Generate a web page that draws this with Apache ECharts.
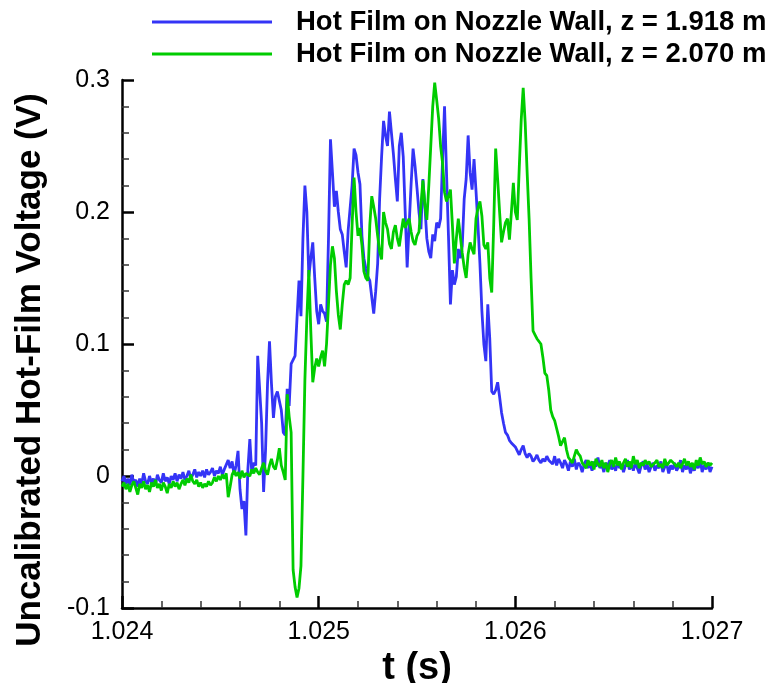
<!DOCTYPE html>
<html>
<head>
<meta charset="utf-8">
<script src="https://cdn.jsdelivr.net/npm/echarts@6/dist/echarts.min.js"></script>
<style>
html,body{margin:0;padding:0;background:#fff;}
#chart{width:770px;height:683px;}
</style>
</head>
<body>
<div id="chart"></div>
<script>
// Sampling: t = T0 + i*DT (s)
const T0 = 1.024;
const DT = 0.00001;
const seriesNames = ['Hot Film on Nozzle Wall, z = 1.918 m', 'Hot Film on Nozzle Wall, z = 2.070 m'];
const xTicks = [1.024, 1.025, 1.026, 1.027];
const yTicks = [-0.1, 0, 0.1, 0.2, 0.3];
// Voltage in mV, z = 1.918 m
const voltBlue = [
  -4, 0, -6, -2, -7, 1, -5, -3, -8, -2,
  -6, 2, -4, -6, 0, -5, -2, -7, 1, -3,
  -5, 2, -4, -1, -6, 0, -3, 2, -4, 1,
  -2, 3, -3, 0, 4, -2, 1, 5, -1, 3,
  0, 4, -1, 5, 1, 3, 6, 0, 4, 2,
  7, 1, 5, 4, 12, 6, 11, 1, 8, 19,
  -10, -25, -19, -45, 5, 28, 2, 10, 8, 91,
  91, 40, -12, 20, 70, 102, 70, 44, 60, 64,
  63, 50, 33, 31, 66, 53, 85, 88, 91, 120,
  148, 121, 180, 220, 200, 151, 165, 177, 150, 125,
  115, 130, 125, 123, 117, 180, 255, 230, 204, 216,
  200, 187, 183, 170, 158, 186, 185, 220, 248, 243,
  230, 221, 182, 165, 157, 151, 148, 147, 123, 140,
  161, 210, 242, 269, 258, 250, 276, 260, 244, 225,
  208, 250, 260, 242, 200, 158, 190, 221, 248, 235,
  218, 200, 187, 225, 205, 180, 170, 165, 183, 178,
  192, 188, 195, 240, 280, 230, 182, 130, 156, 145,
  151, 172, 165, 174, 210, 225, 258, 230, 217, 240,
  216, 190, 161, 125, 100, 87, 130, 104, 64, 62,
  65, 71, 60, 48, 40, 33, 31, 27, 25, 26,
  22, 23, 16, 20, 23, 17, 14, 17, 15, 11,
  13, 16, 12, 10, 13, 11, 15, 12, 11, 9,
  15, 8, 13, 10, 6, 12, 9, 4, 11, 7,
  13, 5, 10, 8, 3, 9, 12, 6, 10, 4,
  11, 7, 14, 6, 9, 3, 10, 7, 12, 5,
  8, 4, 11, 6, 9, 3, 8, 12, 5, 9,
  4, 10, 6, 2, 8, 11, 5, 9, 3, 7,
  10, 4, 8, 6, 11, 3, 7, 9, 2, 8,
  5, 10, 4, 7, 12, 3, 8, 5, 10, 2,
  7, 4, 9, 6, 12, 3, 8, 5, 10, 3,
  7
];
// Voltage in mV, z = 2.070 m
const voltGreen = [
  -8, -5, -10, -6, -12, -7, -4, -9, -14, -6,
  -9, -4, -10, -7, -12, -5, -8, -3, -9, -6,
  -11, -5, -8, -13, -6, -9, -4, -8, -5, -10,
  -6, -3, -7, -2, -5, 1, -4, -6, -3, -8,
  -5, -9, -6, -8, -4, -7, -5, -1, -4, 0,
  -3, 1, -2, 2, -16, -8, 1, 4, 0, 3,
  -2, 4, -1, 2, 3, 0, 5, 2, 6, 3,
  1, 6, 10, 4, 1, 8, 13, 7, 5, 12,
  21, 8, 3, -3, 62, 45, 33, -71, -84, -92,
  -85, -68, 0, 73, 120, 156, 110, 71, 82, 89,
  83, 90, 95, 83, 100, 130, 160, 174, 165, 140,
  122, 111, 130, 145, 148, 145, 150, 190, 226, 200,
  182, 188, 175, 155, 150, 148, 190, 212, 204, 195,
  182, 170, 164, 200, 192, 187, 176, 172, 185, 190,
  180, 174, 185, 195, 188, 192, 195, 185, 178, 175,
  182, 185, 205, 224, 205, 194, 220, 250, 280, 298,
  285, 271, 250, 237, 215, 208, 212, 217, 190, 161,
  180, 195, 182, 169, 158, 150, 168, 177, 172, 168,
  195, 203, 208, 197, 175, 172, 177, 150, 139, 190,
  248, 225, 200, 177, 185, 192, 195, 179, 200, 222,
  200, 194, 234, 270, 294, 268, 230, 195, 150, 110,
  107, 104, 103, 100, 90, 78, 76, 65, 50, 45,
  42, 36, 30, 23, 26, 29, 20, 14, 12, 10,
  15, 20, 17, 15, 10, 8, 6, 12, 8, 11,
  5, 13, 9, 7, 12, 6, 10, 3, 9, 12,
  7, 14, 8, 11, 5, 10, 13, 7, 11, 6,
  15, 9, 12, 6, 10, 8, 12, 9, 11, 7,
  8, 10, 12, 7, 9, 6, 13, 8, 10, 12,
  11, 9, 7, 10, 6, 9, 13, 8, 11, 7,
  10, 5, 12, 8, 14, 9, 11, 7, 10, 8,
  10
];

function toPairs(arr){ return arr.map((v,i)=>[T0 + i*DT, v/1000]); }

const chart = echarts.init(document.getElementById('chart'), null, {renderer:'canvas'});
const FONT = '"Liberation Sans", Arial, Helvetica, sans-serif';
const BLUE = '#3434f6';
const GREEN = '#00cc00';
chart.setOption({
  animation:false,
  backgroundColor:'#fff',
  grid:{left:122, right:58, top:80, bottom:75, containLabel:false, outerBoundsMode:'none'},
  legend:{
    orient:'vertical', left:152, top:8, padding:0,
    icon:'rect', itemWidth:120, itemHeight:3, itemGap:4,
    data: seriesNames,
    textStyle:{fontFamily:FONT, fontWeight:'bold', fontSize:27.5, color:'#000', padding:[0,0,0,19], lineHeight:24},
    selectedMode:false
  },
  xAxis:{
    type:'value', min:xTicks[0], max:xTicks[xTicks.length-1], interval:0.001,
    name:'t (s)', nameLocation:'middle', nameGap:18,
    nameTextStyle:{fontFamily:FONT, fontWeight:'bold', fontSize:38, color:'#000'},
    axisLine:{show:true, onZero:false, lineStyle:{color:'#000', width:2.5}},
    axisTick:{show:true, inside:true, length:12, lineStyle:{color:'#000', width:2.5}},
    minorTick:{show:true, splitNumber:5, length:7, lineStyle:{color:'#333', width:1.5}},
    axisLabel:{fontFamily:FONT, fontSize:25, color:'#000', margin:12, formatter:v=>v.toFixed(3)},
    splitLine:{show:false}
  },
  yAxis:{
    type:'value', min:yTicks[0], max:yTicks[yTicks.length-1], interval:0.1,
    name:'Uncalibrated Hot-Film Voltage (V)', nameLocation:'middle', nameGap:74, nameRotate:90,
    nameTextStyle:{fontFamily:FONT, fontWeight:'bold', fontSize:35, color:'#000', padding:[0,52,0,0]},
    axisLine:{show:true, onZero:false, lineStyle:{color:'#000', width:2.5}},
    axisTick:{show:true, inside:true, length:12, lineStyle:{color:'#000', width:2.5}},
    minorTick:{show:true, splitNumber:5, length:7, lineStyle:{color:'#333', width:1.5}},
    axisLabel:{fontFamily:FONT, fontSize:25, color:'#000', margin:12,
      formatter:v=> Math.abs(v)<1e-9 ? '0' : v.toFixed(1)},
    splitLine:{show:false}
  },
  series:[
    {name:seriesNames[0], type:'line', data:toPairs(voltBlue), symbol:'none', showSymbol:false,
     lineStyle:{color:BLUE, width:2.8}, itemStyle:{color:BLUE}, clip:true},
    {name:seriesNames[1], type:'line', data:toPairs(voltGreen), symbol:'none', showSymbol:false,
     lineStyle:{color:GREEN, width:2.8}, itemStyle:{color:GREEN}, clip:true}
  ]
});
</script>
</body>
</html>
